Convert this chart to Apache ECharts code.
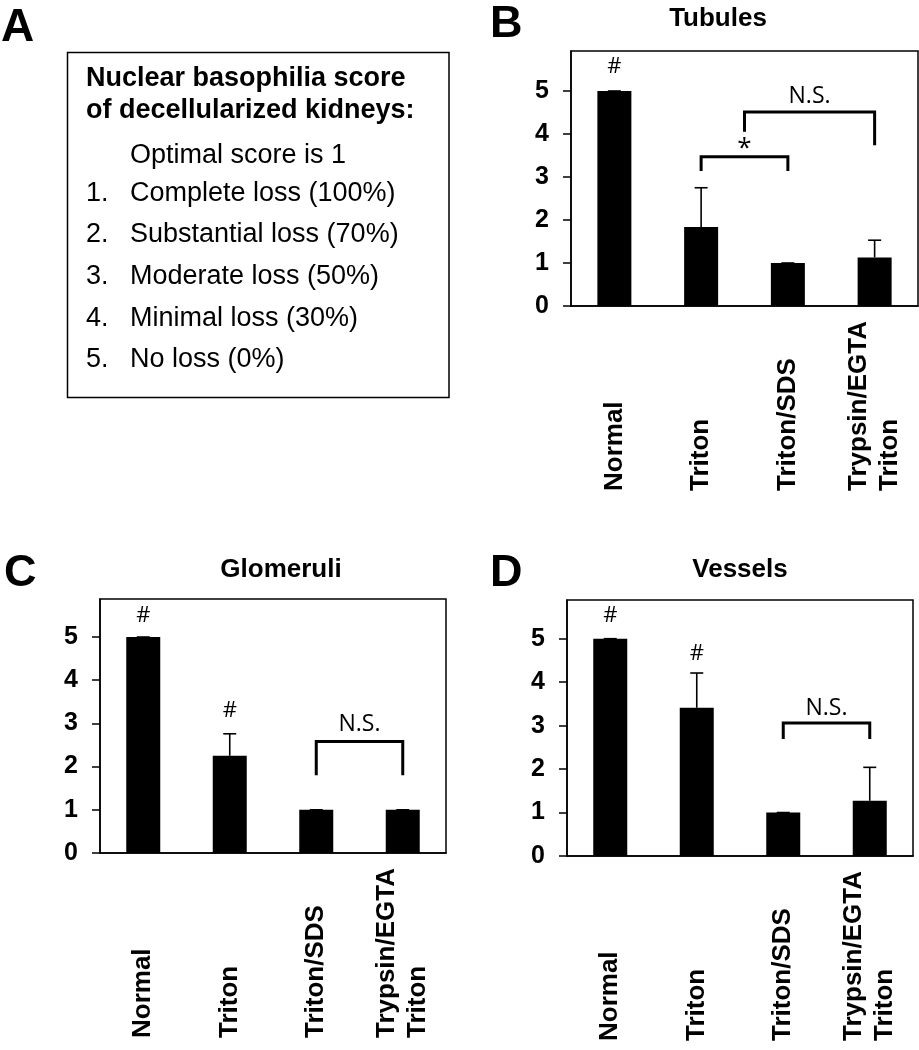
<!DOCTYPE html>
<html>
<head>
<meta charset="utf-8">
<script src="https://cdn.jsdelivr.net/npm/echarts@6/dist/echarts.min.js"></script>
<style>
html,body{margin:0;padding:0;background:#fff;}
#chart{width:919px;height:1050px;}
</style>
</head>
<body>
<div id="chart"></div>
<script>
// ---- data ----
const categories = ['Normal', 'Triton', 'Triton/SDS', 'Trypsin/EGTA\nTriton'];
const yTicks = [0, 1, 2, 3, 4, 5];

const tubulesMean = [5.0, 1.84, 1.0, 1.13];
const tubulesErr  = [0.0, 0.91, 0.0, 0.40];
const glomeruliMean = [5.0, 2.25, 1.0, 1.0];
const glomeruliErr  = [0.0, 0.51, 0.0, 0.0];
const vesselsMean = [5.0, 3.41, 1.0, 1.27];
const vesselsErr  = [0.0, 0.80, 0.0, 0.77];

const tubulesMarks = [{x: 0, y: 5.56, text: '#'}, {x: 1.5, y: 3.66, text: '*'}, {x: 2.25, y: 4.87, text: 'N.S.'}];
const tubulesBrackets = [
  {from: 1, to: 2, top: 3.47, legFrom: 3.14, legTo: 3.14},
  {from: 1.5, to: 3, top: 4.51, legFrom: 4.05, legTo: 3.74}
];
const glomeruliMarks = [{x: 0, y: 5.49, text: '#'}, {x: 1, y: 3.30, text: '#'}, {x: 2.5, y: 2.97, text: 'N.S.'}];
const glomeruliBrackets = [{from: 2, to: 3, top: 2.58, legFrom: 1.80, legTo: 1.80}];
const vesselsMarks = [{x: 0, y: 5.52, text: '#'}, {x: 1, y: 4.66, text: '#'}, {x: 2.5, y: 3.40, text: 'N.S.'}];
const vesselsBrackets = [{from: 2, to: 3, top: 3.06, legFrom: 2.69, legTo: 2.69}];

const panelTitles = ['Tubules', 'Glomeruli', 'Vessels'];
const scoreHeading = ['Nuclear basophilia score', 'of decellularized kidneys:'];
const scoreNote = 'Optimal score is 1';
const scoreItems = ['Complete loss (100%)', 'Substantial loss (70%)', 'Moderate loss (50%)', 'Minimal loss (30%)', 'No loss (0%)'];

// ---- styles / layout ----
const SANS = '"Liberation Sans", Arial, sans-serif';
const ANNOT = '"Open Sans", sans-serif';
const panels = [
  {grid: {left: 571, top: 51, width: 347, height: 255}, yMax: 5.93, mean: tubulesMean, err: tubulesErr, marks: tubulesMarks, brackets: tubulesBrackets},
  {grid: {left: 100, top: 599, width: 346, height: 254}, yMax: 5.88, mean: glomeruliMean, err: glomeruliErr, marks: glomeruliMarks, brackets: glomeruliBrackets},
  {grid: {left: 567, top: 600, width: 346, height: 256}, yMax: 5.89, mean: vesselsMean, err: vesselsErr, marks: vesselsMarks, brackets: vesselsBrackets}
];

function coordAt(api, x, y) {
  const i = Math.floor(x), f = x - i;
  const p0 = api.coord([i, y]);
  if (f === 0) return p0;
  const p1 = api.coord([i + 1, y]);
  return [p0[0] + (p1[0] - p0[0]) * f, p0[1]];
}

const grid = [], xAxis = [], yAxis = [], series = [];
panels.forEach((p, k) => {
  grid.push(Object.assign({show: true, borderColor: '#000', borderWidth: 1.5, backgroundColor: 'transparent', containLabel: false, outerBoundsMode: 'none'}, p.grid));
  xAxis.push({
    type: 'category', gridIndex: k, data: categories, boundaryGap: true,
    axisLine: {show: true, lineStyle: {color: '#000', width: 1.5}},
    axisTick: {show: false},
    axisLabel: {interval: 0, rotate: 90, align: 'left', verticalAlign: 'middle', margin: 185,
      color: '#000', fontFamily: SANS, fontWeight: 'bold', fontSize: 26, lineHeight: 31}
  });
  yAxis.push({
    type: 'value', gridIndex: k, min: 0, max: p.yMax, interval: 1,
    splitLine: {show: false},
    axisLine: {show: true, lineStyle: {color: '#000', width: 1.5}},
    axisTick: {show: true, inside: false, length: 8, lineStyle: {color: '#000', width: 1.5}, customValues: yTicks},
    axisLabel: {customValues: yTicks, margin: 22, color: '#000', fontFamily: SANS, fontWeight: 'bold', fontSize: 25,
      formatter: v => (Number.isInteger(v) ? String(v) : '')}
  });
  series.push({
    type: 'bar', xAxisIndex: k, yAxisIndex: k, data: p.mean, barWidth: 34,
    itemStyle: {color: '#000'}, silent: true, animation: false
  });
  series.push({
    type: 'custom', xAxisIndex: k, yAxisIndex: k, animation: false, silent: true, z: 3,
    data: p.mean.map((m, i) => [i, m, m + p.err[i]]),
    renderItem: (params, api) => {
      const base = api.coord([api.value(0), api.value(1)]);
      const top = api.coord([api.value(0), api.value(2)]);
      const half = 6.5;
      return {type: 'group', children: [
        {type: 'line', shape: {x1: base[0], y1: base[1], x2: top[0], y2: top[1]}, style: {stroke: '#000', lineWidth: 1.6}},
        {type: 'line', shape: {x1: top[0] - half, y1: top[1], x2: top[0] + half, y2: top[1]}, style: {stroke: '#000', lineWidth: 1.6}}
      ]};
    }
  });
  series.push({
    type: 'custom', xAxisIndex: k, yAxisIndex: k, animation: false, silent: true, z: 4,
    data: p.brackets.map(b => [b.from, b.top]),
    renderItem: (params, api) => {
      const b = p.brackets[params.dataIndex];
      const a = coordAt(api, b.from, b.legFrom);
      const t1 = coordAt(api, b.from, b.top);
      const t2 = coordAt(api, b.to, b.top);
      const c = coordAt(api, b.to, b.legTo);
      return {type: 'polyline', shape: {points: [a, t1, t2, c]}, style: {stroke: '#000', lineWidth: 3, fill: null, lineJoin: 'miter'}};
    }
  });
  series.push({
    type: 'custom', xAxisIndex: k, yAxisIndex: k, animation: false, silent: true, z: 5,
    data: p.marks.map(m => [m.x, m.y]),
    renderItem: (params, api) => {
      const m = p.marks[params.dataIndex];
      const pt = coordAt(api, m.x, m.y);
      const size = m.text === 'N.S.' ? 23 : (m.text === '*' ? 26 : 22);
      return {type: 'text', x: pt[0], y: pt[1], style: {text: m.text, align: 'center', verticalAlign: 'middle',
        fontFamily: ANNOT, fontSize: size, fill: '#000'}};
    }
  });
});

function txt(text, x, y, size, weight, align) {
  return {type: 'text', x: x, y: y, silent: true,
    style: {text: text, fontFamily: SANS, fontSize: size, fontWeight: weight, fill: '#000', align: align || 'left', verticalAlign: 'middle'}};
}

const graphic = [
  txt('A', 1, 28, 46, 'bold'),
  txt('B', 490, 25, 45, 'bold'),
  txt('C', 4, 574, 45, 'bold'),
  txt('D', 490, 574, 45, 'bold'),
  txt(panelTitles[0], 718, 19, 26, 'bold', 'center'),
  txt(panelTitles[1], 281, 570, 26, 'bold', 'center'),
  txt(panelTitles[2], 740, 570, 26, 'bold', 'center'),
  {type: 'rect', silent: true, shape: {x: 67.5, y: 52.5, width: 381.5, height: 345}, style: {fill: 'none', stroke: '#000', lineWidth: 1.5}},
  txt(scoreHeading[0], 86, 79, 27, 'bold'),
  txt(scoreHeading[1], 86, 111, 27, 'bold'),
  txt(scoreNote, 130, 156, 27, 'normal')
];
const itemY = [194, 235, 277, 319, 360];
scoreItems.forEach((s, i) => {
  graphic.push(txt((i + 1) + '.', 86, itemY[i], 27, 'normal'));
  graphic.push(txt(s, 130, itemY[i], 27, 'normal'));
});

const chart = echarts.init(document.getElementById('chart'), null, {renderer: 'canvas'});
chart.setOption({
  backgroundColor: '#fff',
  animation: false,
  grid: grid, xAxis: xAxis, yAxis: yAxis, series: series, graphic: graphic
});
</script>
</body>
</html>
